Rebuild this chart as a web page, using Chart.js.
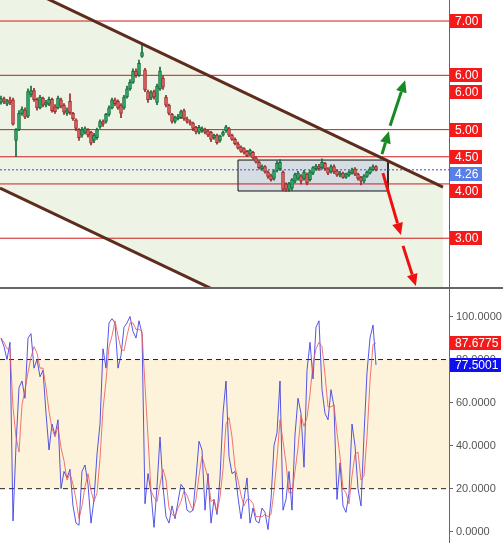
<!DOCTYPE html>
<html>
<head>
<meta charset="utf-8">
<script src="https://cdn.jsdelivr.net/npm/chart.js@4.4.1/dist/chart.umd.min.js"></script>
<style>
  body { margin: 0; background: #fff; }
  #wrap { position: relative; width: 503px; height: 543px; overflow: hidden; }
  #price { position: absolute; left: 0; top: 0; }
  #sep { position: absolute; left: 0; top: 287px; width: 503px; height: 2px; background: #666; }
  #stoch { position: absolute; left: 0; top: 289px; }
</style>
</head>
<body>
<div id="wrap">
  <canvas id="price" width="503" height="287"></canvas>
  <div id="sep"></div>
  <canvas id="stoch" width="503" height="254"></canvas>
</div>
<script>
/* global Chart */

// candles, one per bar index
const opens = [
  5.50, 5.57, 5.47, 5.55, 5.55, 4.80, 5.00, 5.30, 5.36, 5.25,
  5.65, 5.72, 5.56, 5.40, 5.58, 5.45, 5.47, 5.56, 5.42, 5.40,
  5.55, 5.45, 5.30, 5.52, 5.30, 5.18, 5.00, 4.90, 4.95, 5.00,
  4.95, 4.80, 4.85, 5.05, 5.15, 5.15, 5.28, 5.40, 5.55, 5.52,
  5.45, 5.40, 5.60, 5.75, 5.87, 6.08, 6.00, 6.35, 6.10, 5.70,
  5.58, 5.70, 5.50, 5.75, 5.95, 5.60, 5.45, 5.28, 5.15, 5.20,
  5.22, 5.35, 5.20, 5.15, 5.12, 5.04, 4.95, 4.98, 5.00, 4.98,
  4.95, 4.85, 4.90, 4.80, 4.90, 4.98, 5.02, 4.90, 4.82, 4.74,
  4.68, 4.65, 4.60, 4.55, 4.58, 4.48, 4.40, 4.28, 4.32, 4.22,
  4.15, 4.10, 4.25, 4.28, 4.22, 4.00, 3.90, 3.92, 4.05, 4.10,
  4.15, 4.10, 4.18, 4.08, 4.20, 4.28, 4.32, 4.30, 4.38, 4.28,
  4.22, 4.32, 4.24, 4.16, 4.20, 4.12, 4.16, 4.20, 4.28, 4.18,
  4.12, 4.05, 4.14, 4.20, 4.26, 4.32
];
const highs = [
  5.62, 5.60, 5.56, 5.60, 5.58, 5.02, 5.35, 5.42, 5.40, 5.75,
  5.80, 5.76, 5.58, 5.63, 5.60, 5.54, 5.60, 5.58, 5.46, 5.62,
  5.58, 5.48, 5.40, 5.66, 5.32, 5.20, 5.02, 5.04, 5.05, 5.02,
  4.97, 4.93, 5.03, 5.18, 5.18, 5.30, 5.44, 5.58, 5.58, 5.55,
  5.48, 5.63, 5.80, 5.92, 6.12, 6.12, 6.28, 6.56, 6.13, 5.73,
  5.72, 5.73, 5.84, 6.15, 5.98, 5.63, 5.47, 5.30, 5.25, 5.28,
  5.36, 5.38, 5.23, 5.18, 5.14, 5.06, 5.08, 5.05, 5.03, 5.00,
  4.97, 4.92, 4.92, 4.90, 4.98, 5.08, 5.04, 4.92, 4.85, 4.77,
  4.70, 4.67, 4.62, 4.64, 4.60, 4.50, 4.42, 4.35, 4.34, 4.24,
  4.18, 4.26, 4.42, 4.45, 4.24, 4.02, 4.03, 4.10, 4.20, 4.23,
  4.17, 4.25, 4.20, 4.25, 4.32, 4.36, 4.36, 4.46, 4.40, 4.30,
  4.35, 4.35, 4.26, 4.23, 4.22, 4.20, 4.24, 4.29, 4.30, 4.20,
  4.14, 4.17, 4.24, 4.31, 4.35, 4.34
];
const lows = [
  5.47, 5.48, 5.44, 5.46, 5.08, 4.50, 4.98, 5.26, 5.20, 5.22,
  5.60, 5.52, 5.36, 5.38, 5.42, 5.42, 5.44, 5.32, 5.30, 5.38,
  5.40, 5.28, 5.26, 5.28, 5.17, 4.98, 4.80, 4.86, 4.92, 4.86,
  4.72, 4.76, 4.82, 5.02, 5.06, 5.12, 5.25, 5.38, 5.44, 5.37,
  5.22, 5.37, 5.58, 5.72, 5.85, 5.96, 5.98, 6.33, 5.70, 5.50,
  5.55, 5.56, 5.46, 5.72, 5.74, 5.42, 5.27, 5.12, 5.12, 5.18,
  5.20, 5.17, 5.12, 5.08, 4.98, 4.92, 4.92, 4.95, 4.92, 4.87,
  4.78, 4.82, 4.73, 4.77, 4.88, 4.95, 4.87, 4.80, 4.72, 4.64,
  4.58, 4.55, 4.50, 4.52, 4.45, 4.38, 4.27, 4.25, 4.20, 4.10,
  4.05, 4.07, 4.22, 4.25, 3.87, 3.86, 3.86, 3.88, 4.02, 4.07,
  4.00, 4.07, 3.98, 4.05, 4.17, 4.25, 4.25, 4.27, 4.25, 4.17,
  4.20, 4.19, 4.14, 4.13, 4.10, 4.10, 4.14, 4.18, 4.15, 4.07,
  3.98, 4.02, 4.12, 4.18, 4.24, 4.24
];
const closes = [
  5.57, 5.52, 5.53, 5.50, 5.10, 5.00, 5.30, 5.38, 5.23, 5.70,
  5.72, 5.55, 5.40, 5.60, 5.45, 5.50, 5.56, 5.35, 5.33, 5.58,
  5.43, 5.32, 5.35, 5.31, 5.20, 5.02, 4.85, 5.00, 5.02, 4.90,
  4.75, 4.90, 5.00, 5.15, 5.10, 5.28, 5.40, 5.55, 5.48, 5.40,
  5.30, 5.60, 5.75, 5.87, 6.08, 6.00, 6.22, 6.42, 5.73, 5.55,
  5.68, 5.60, 5.80, 6.08, 5.78, 5.45, 5.30, 5.15, 5.22, 5.24,
  5.33, 5.20, 5.15, 5.12, 5.02, 4.96, 5.04, 5.02, 4.95, 4.90,
  4.82, 4.90, 4.76, 4.88, 4.95, 5.05, 4.90, 4.82, 4.74, 4.66,
  4.60, 4.58, 4.52, 4.62, 4.48, 4.40, 4.30, 4.32, 4.22, 4.14,
  4.08, 4.24, 4.38, 4.40, 3.90, 3.90, 4.00, 4.08, 4.17, 4.20,
  4.05, 4.22, 4.02, 4.22, 4.30, 4.33, 4.28, 4.40, 4.28, 4.20,
  4.32, 4.22, 4.16, 4.20, 4.12, 4.18, 4.22, 4.26, 4.18, 4.10,
  4.05, 4.15, 4.22, 4.28, 4.32, 4.26
];

// stochastic %K and %D
const stochK = [
  90, 86, 80, 88, 5, 40, 67, 70, 62, 90,
  92, 76, 80, 72, 75, 55, 38, 50, 45, 52,
  20, 28, 25, 29, 12, 4, 3, 28, 31, 22,
  4, 15, 36, 50, 85, 76, 97, 99, 97, 76,
  82, 95, 97, 100, 93, 90, 98, 92, 13, 27,
  18, 2, 21, 44, 21, 7, 4, 12, 6, 14,
  22, 20, 10, 9, 10, 25, 42, 38, 10, 27,
  4, 15, 8, 25, 55, 70, 35, 27, 28, 16,
  6, 15, 25, 4, 11, 5, 4, 11, 9, 1,
  15, 40, 46, 70, 10, 15, 28, 10, 45, 62,
  55, 30, 75, 88, 71, 95, 98, 66, 55, 52,
  66, 58, 15, 32, 12, 9, 18, 50, 40, 20,
  12, 45, 74, 90, 96, 77.5001
];
const stochD = [
  90, 88, 85, 85, 58, 44, 37, 59, 66, 74,
  81, 86, 83, 76, 76, 67, 56, 48, 44, 49,
  39, 33, 24, 27, 22, 15, 6, 12, 21, 27,
  19, 14, 18, 34, 57, 70, 86, 91, 98, 91,
  85, 84, 91, 97, 97, 94, 94, 93, 68, 44,
  19, 16, 14, 22, 29, 24, 11, 8, 7, 11,
  14, 19, 17, 13, 10, 15, 26, 35, 30, 25,
  14, 15, 9, 16, 29, 50, 53, 44, 30, 24,
  17, 12, 15, 15, 13, 7, 7, 7, 8, 7,
  8, 19, 34, 52, 42, 32, 18, 18, 28, 39,
  54, 49, 53, 64, 78, 85, 88, 86, 73, 58,
  58, 59, 46, 35, 20, 18, 13, 26, 36, 37,
  24, 26, 44, 70, 87, 87.6775
];

// drawn objects, in (bar index, price)
const levelLines = [7, 6, 5, 4.5, 4, 3];
const extraTags = [{ value: 5.69, text: '6.00' }];
const channelTop = [[-0.33, 7.825], [147.33, 3.943]];
const channelBottom = [[-0.33, 3.925], [147.33, 0.043]];
const rangeBox = { from: 79, to: 129, high: 4.44, low: 3.87 };
const greenArrows = [[127, 4.55, 129.3, 4.97], [129.7, 5.07, 134.7, 5.91]];
const redArrows = [[127.3, 4.20, 133.3, 3.06], [134, 2.86, 138.3, 2.12]];
const stochTicks = [0, 20, 40, 60, 80, 100];
const stochBand = [20, 80];

const xMin = -1 / 3;
const xMax = 448 / 3;
const AXIS_W = 54;
const FONT = '"Liberation Sans", Arial, sans-serif';

function span(v) {
  return [{ x: xMin, y: v }, { x: xMax, y: v }];
}
function pts(list) {
  return list.map(function(p) { return { x: p[0], y: p[1] }; });
}
function isUp(i) { return closes[i] >= opens[i]; }

function drawArrow(ctx, x1, y1, x2, y2, color) {
  const a = Math.atan2(y2 - y1, x2 - x1);
  const head = 12, half = 5.5;
  const bx = x2 - head * Math.cos(a), by = y2 - head * Math.sin(a);
  ctx.save();
  ctx.strokeStyle = color;
  ctx.fillStyle = color;
  ctx.lineWidth = 3;
  ctx.beginPath();
  ctx.moveTo(x1, y1);
  ctx.lineTo(bx, by);
  ctx.stroke();
  ctx.beginPath();
  ctx.moveTo(x2, y2);
  ctx.lineTo(bx + half * Math.sin(a), by - half * Math.cos(a));
  ctx.lineTo(bx - half * Math.sin(a), by + half * Math.cos(a));
  ctx.closePath();
  ctx.fill();
  ctx.restore();
}

function drawTag(ctx, left, cy, text, bg, w) {
  ctx.fillStyle = bg;
  ctx.fillRect(left + 1, Math.round(cy - 7), w, 14);
  ctx.fillStyle = '#fff';
  ctx.font = '12px ' + FONT;
  ctx.textAlign = 'left';
  ctx.textBaseline = 'middle';
  ctx.fillText(text, left + 6, Math.round(cy) + 0.5);
}

const arrowPlugin = {
  id: 'arrows',
  afterDatasetsDraw: function(chart) {
    const sx = chart.scales.x, sy = chart.scales.y, ctx = chart.ctx;
    greenArrows.forEach(function(a) {
      drawArrow(ctx, sx.getPixelForValue(a[0]), sy.getPixelForValue(a[1]),
        sx.getPixelForValue(a[2]), sy.getPixelForValue(a[3]), '#178a24');
    });
    redArrows.forEach(function(a) {
      drawArrow(ctx, sx.getPixelForValue(a[0]), sy.getPixelForValue(a[1]),
        sx.getPixelForValue(a[2]), sy.getPixelForValue(a[3]), '#f01010');
    });
  }
};

const priceTagPlugin = {
  id: 'priceTags',
  afterDraw: function(chart) {
    const sy = chart.scales.y, ctx = chart.ctx, left = chart.chartArea.right;
    const tags = levelLines.map(function(v) { return { value: v, text: v.toFixed(2), bg: '#f41a1a' }; })
      .concat(extraTags.map(function(t) { return { value: t.value, text: t.text, bg: '#f41a1a' }; }));
    tags.push({ value: closes[closes.length - 1], text: closes[closes.length - 1].toFixed(2), bg: '#5a7fe6' });
    tags.forEach(function(t) { t.y = sy.getPixelForValue(t.value); t.cy = t.y; });
    tags.sort(function(a, b) { return a.y - b.y; });
    let prevBottom = -100;
    tags.forEach(function(t) {
      if (t.cy - 7 < prevBottom + 3) t.cy = prevBottom + 3 + 7;
      prevBottom = t.cy + 7;
    });
    ctx.save();
    tags.forEach(function(t) {
      ctx.strokeStyle = '#666';
      ctx.lineWidth = 1;
      ctx.beginPath();
      ctx.moveTo(left, Math.round(t.y) + 0.5);
      ctx.lineTo(left + 3, Math.round(t.y) + 0.5);
      ctx.stroke();
      drawTag(ctx, left, t.cy, t.text, t.bg, 32);
    });
    ctx.restore();
  }
};

const stochTagPlugin = {
  id: 'stochTags',
  afterDraw: function(chart) {
    const sy = chart.scales.y, ctx = chart.ctx, left = chart.chartArea.right;
    const d = stochD[stochD.length - 1], k = stochK[stochK.length - 1];
    ctx.save();
    drawTag(ctx, left, sy.getPixelForValue(d), d.toFixed(4), '#f41a1a', 51);
    drawTag(ctx, left, sy.getPixelForValue(k), k.toFixed(4), '#1010ee', 51);
    ctx.restore();
  }
};

// fixed axis width, and no label overhang padding above/below the plot
function fixWidth(scale) {
  scale.width = AXIS_W;
  scale.paddingTop = 0;
  scale.paddingBottom = 0;
}

const xScale = {
  type: 'linear', min: xMin, max: xMax, offset: false, display: false
};

// ---- price panel ----
const datasets = [];
datasets.push({
  type: 'line', data: pts(channelTop), borderWidth: 0, pointRadius: 0,
  fill: '+1', backgroundColor: '#edf3e5', order: 30
});
datasets.push({
  type: 'line', data: pts(channelBottom), borderWidth: 0, pointRadius: 0,
  fill: false, order: 29
});
datasets.push({
  type: 'line',
  data: [
    { x: rangeBox.from, y: rangeBox.high }, { x: rangeBox.to, y: rangeBox.high },
    { x: rangeBox.to, y: rangeBox.low }, { x: rangeBox.from, y: rangeBox.low },
    { x: rangeBox.from, y: rangeBox.high }
  ],
  borderColor: '#111', borderWidth: 1, pointRadius: 0,
  fill: 'shape', backgroundColor: '#d5dde3', order: 25
});
levelLines.forEach(function(v) {
  datasets.push({
    type: 'line', data: span(v), borderColor: '#d01c1c', borderWidth: 1,
    pointRadius: 0, fill: false, order: 20
  });
});
datasets.push({
  type: 'line', data: span(closes[closes.length - 1]), borderColor: '#3b4fd0',
  borderWidth: 1, borderDash: [2, 2], pointRadius: 0, fill: false, order: 20
});
datasets.push({
  type: 'bar', grouped: false, barThickness: 1, order: 6,
  data: closes.map(function(c, i) { return { x: i, y: [lows[i], highs[i]] }; }),
  backgroundColor: closes.map(function(c, i) { return isUp(i) ? '#146b3a' : '#9c2a2a'; })
});
datasets.push({
  type: 'bar', grouped: false, barThickness: 3, order: 5,
  borderWidth: 1, borderSkipped: false,
  data: closes.map(function(c, i) { return { x: i, y: [opens[i], closes[i]] }; }),
  backgroundColor: closes.map(function(c, i) { return isUp(i) ? '#2fb06a' : '#e06464'; }),
  borderColor: closes.map(function(c, i) { return isUp(i) ? '#146b3a' : '#9c2a2a'; })
});
datasets.push({
  type: 'line', data: pts(channelTop), borderColor: '#5e2c1c', borderWidth: 3,
  pointRadius: 0, fill: false, order: 2
});
datasets.push({
  type: 'line', data: pts(channelBottom), borderColor: '#5e2c1c', borderWidth: 3,
  pointRadius: 0, fill: false, order: 2
});

new Chart(document.getElementById('price'), {
  type: 'bar',
  data: { datasets: datasets },
  options: {
    responsive: false,
    animation: false,
    layout: { padding: 0 },
    plugins: { legend: { display: false }, tooltip: { enabled: false } },
    scales: {
      x: xScale,
      y: {
        position: 'right', min: 2.102, max: 7.387,
        ticks: { display: false },
        grid: { display: false },
        border: { display: true, color: '#666', width: 1 },
        afterFit: fixWidth
      }
    }
  },
  plugins: [arrowPlugin, priceTagPlugin]
});

// ---- stochastic panel ----
new Chart(document.getElementById('stoch'), {
  type: 'line',
  data: {
    datasets: [
      {
        data: span(stochBand[1]), borderColor: '#222', borderWidth: 1, borderDash: [5, 4],
        pointRadius: 0, fill: '+1', backgroundColor: '#fdf3da', order: 10
      },
      {
        data: span(stochBand[0]), borderColor: '#222', borderWidth: 1, borderDash: [5, 4],
        pointRadius: 0, fill: false, order: 9
      },
      {
        data: stochK.map(function(v, i) { return { x: i, y: v }; }),
        borderColor: 'rgba(45,45,225,0.8)', borderWidth: 1, pointRadius: 0, fill: false, order: 3
      },
      {
        data: stochD.map(function(v, i) { return { x: i, y: v }; }),
        borderColor: 'rgba(235,85,85,0.8)', borderWidth: 1, pointRadius: 0, fill: false, order: 2
      }
    ]
  },
  options: {
    responsive: false,
    animation: false,
    layout: { padding: 0 },
    plugins: { legend: { display: false }, tooltip: { enabled: false } },
    scales: {
      x: xScale,
      y: {
        position: 'right', min: -5.25, max: 112.78,
        afterBuildTicks: function(scale) {
          scale.ticks = stochTicks.map(function(v) { return { value: v }; });
        },
        ticks: {
          color: '#555', padding: 3, font: { family: FONT, size: 11 },
          callback: function(v) { return Number(v).toFixed(4); }
        },
        grid: { drawOnChartArea: false, drawTicks: true, tickLength: 4, color: '#666' },
        border: { display: true, color: '#666', width: 1 },
        afterFit: fixWidth
      }
    }
  },
  plugins: [stochTagPlugin]
});
</script>
</body>
</html>
